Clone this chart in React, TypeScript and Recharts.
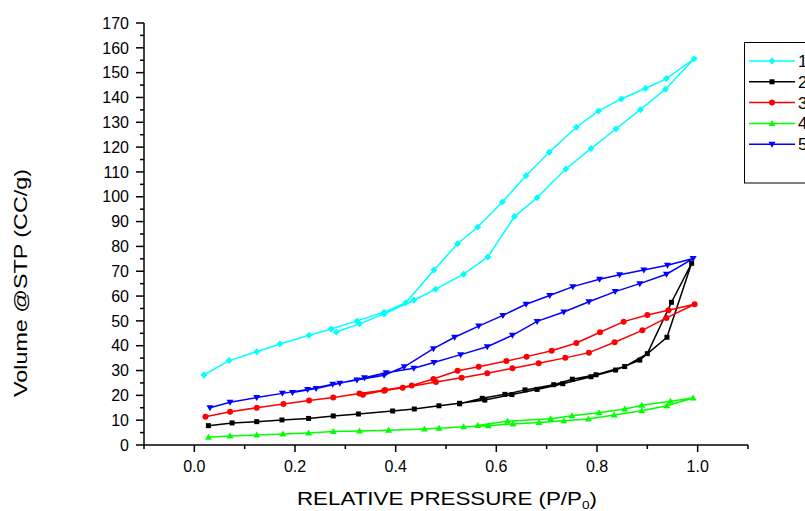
import React from 'react';
import { LineChart, Line, XAxis, YAxis } from 'recharts';

const SERIES_NAMES = ['1', '2', '3', '4', '5'];
const SERIES_COLORS = ['#00FFFF', '#000000', '#FF0000', '#00FF00', '#0000FF'];
const SERIES_SHAPES = ['diamond', 'square', 'circle', 'triangleUp', 'triangleDown'];

// sample 1 (adsorption up, then desorption back down)
const S1_P = [0.019, 0.069, 0.124, 0.170, 0.228, 0.272, 0.323, 0.377, 0.420, 0.476, 0.523, 0.563, 0.612, 0.659, 0.705, 0.759, 0.803, 0.848, 0.896, 0.938, 0.993,
  0.936, 0.886, 0.838, 0.788, 0.738, 0.681, 0.636, 0.583, 0.535, 0.479, 0.436, 0.377, 0.328, 0.282];
const S1_V = [28.2, 34.0, 37.6, 40.7, 44.2, 46.7, 50.0, 53.5, 57.3, 70.5, 81.1, 87.8, 97.9, 108.5, 117.9, 128.0, 134.6, 139.4, 143.6, 147.6, 155.6,
  143.3, 135.1, 127.4, 119.4, 111.2, 99.6, 92.0, 75.7, 68.8, 62.7, 58.3, 52.8, 48.8, 45.5];

const S2_P = [0.028, 0.075, 0.124, 0.174, 0.227, 0.276, 0.326, 0.394, 0.437, 0.486, 0.527, 0.577, 0.631, 0.681, 0.732, 0.788, 0.837, 0.885, 0.939, 0.988,
  0.948, 0.900, 0.855, 0.798, 0.751, 0.714, 0.657, 0.617, 0.572, 0.527];
const S2_V = [7.8, 8.9, 9.4, 10.1, 10.7, 11.7, 12.5, 13.7, 14.5, 15.8, 16.8, 18.1, 20.3, 22.4, 24.7, 27.5, 30.2, 34.2, 43.4, 73.2,
  57.5, 36.8, 31.6, 28.3, 26.5, 24.3, 22.2, 20.4, 18.8, 16.6];

const S3_P = [0.022, 0.071, 0.124, 0.177, 0.228, 0.276, 0.328, 0.379, 0.432, 0.475, 0.523, 0.565, 0.620, 0.660, 0.710, 0.759, 0.806, 0.853, 0.900, 0.942, 0.994,
  0.938, 0.890, 0.835, 0.784, 0.737, 0.684, 0.632, 0.582, 0.531, 0.480, 0.414, 0.377, 0.335];
const S3_V = [11.4, 13.4, 15.0, 16.5, 17.9, 19.1, 20.7, 22.2, 24.0, 26.6, 29.9, 31.5, 33.8, 35.6, 38.0, 41.1, 45.4, 49.7, 52.4, 54.3, 56.7,
  51.2, 46.2, 41.4, 37.2, 35.1, 32.9, 30.9, 28.9, 27.1, 25.4, 23.1, 21.9, 20.2];

const S4_P = [0.028, 0.071, 0.124, 0.176, 0.227, 0.276, 0.328, 0.386, 0.457, 0.486, 0.535, 0.584, 0.633, 0.685, 0.734, 0.783, 0.834, 0.889, 0.939, 0.991,
  0.946, 0.889, 0.855, 0.804, 0.750, 0.708, 0.622, 0.563];
const S4_V = [3.1, 3.6, 4.0, 4.4, 4.8, 5.4, 5.6, 5.9, 6.4, 6.7, 7.4, 7.8, 8.5, 9.1, 9.8, 10.5, 12.1, 13.8, 15.8, 18.9,
  17.6, 16.0, 14.5, 13.0, 11.8, 10.6, 9.6, 7.9];

const S5_P = [0.031, 0.071, 0.124, 0.175, 0.225, 0.275, 0.323, 0.377, 0.417, 0.475, 0.517, 0.565, 0.613, 0.659, 0.706, 0.752, 0.805, 0.845, 0.893, 0.940, 0.991,
  0.938, 0.885, 0.836, 0.784, 0.734, 0.681, 0.632, 0.582, 0.529, 0.476, 0.436, 0.381, 0.338, 0.289, 0.242, 0.195];
const S5_V = [15.0, 17.2, 19.1, 20.8, 22.4, 24.5, 26.2, 28.1, 31.5, 38.8, 43.4, 47.9, 52.2, 56.7, 60.2, 63.8, 66.8, 68.6, 70.5, 72.4, 75.1,
  68.8, 65.0, 61.8, 57.7, 53.6, 49.8, 44.2, 39.6, 36.4, 33.2, 30.9, 29.1, 27.1, 24.9, 22.8, 21.1];

const X_TICKS = [-0.1, 0, 0.1, 0.2, 0.3, 0.4, 0.5, 0.6, 0.7, 0.8, 0.9, 1.0, 1.1];
const X_LABELS = [0, 0.2, 0.4, 0.6, 0.8, 1.0];
const Y_TICKS = Array.from({ length: 35 }, (_, i) => i * 5);

const FONT = '"Liberation Sans", Arial, sans-serif';

const toRows = (p: number[], v: number[]) => p.map((x, i) => ({ p: x, v: v[i] }));
const SERIES_DATA = [toRows(S1_P, S1_V), toRows(S2_P, S2_V), toRows(S3_P, S3_V), toRows(S4_P, S4_V), toRows(S5_P, S5_V)];

const Marker = ({ shape, cx, cy, color }: { shape: string; cx: number; cy: number; color: string }) => {
  switch (shape) {
    case 'diamond':
      return <path d={`M${cx},${cy - 3.5}L${cx + 3.5},${cy}L${cx},${cy + 3.5}L${cx - 3.5},${cy}Z`} fill={color} />;
    case 'square':
      return <rect x={cx - 2.5} y={cy - 2.5} width={5} height={5} fill={color} />;
    case 'circle':
      return <circle cx={cx} cy={cy} r={3} fill={color} />;
    case 'triangleUp':
      return <path d={`M${cx},${cy - 3.5}L${cx + 3.5},${cy + 2.5}L${cx - 3.5},${cy + 2.5}Z`} fill={color} />;
    default:
      return <path d={`M${cx},${cy + 3.5}L${cx + 3.5},${cy - 2.5}L${cx - 3.5},${cy - 2.5}Z`} fill={color} />;
  }
};

const makeDot = (shape: string, color: string) => (props: any) => (
  <Marker key={`dot-${props.index}`} shape={shape} cx={props.cx} cy={props.cy} color={color} />
);

const XTick = (props: any) => {
  const { x, y, payload } = props;
  const major = X_LABELS.some((m) => Math.abs(m - payload.value) < 1e-6);
  return (
    <g>
      <line x1={x} x2={x} y1={y} y2={y + (major ? 7 : 4)} stroke="#000" strokeWidth={1.5} />
      {major && (
        <text x={x} y={y + 27} textAnchor="middle" fontSize={16} fontFamily={FONT} fill="#000">
          {payload.value.toFixed(1)}
        </text>
      )}
    </g>
  );
};

const YTick = (props: any) => {
  const { x, y, payload } = props;
  const major = payload.value % 10 === 0;
  return (
    <g>
      <line x1={x} x2={x - (major ? 8 : 4)} y1={y} y2={y} stroke="#000" strokeWidth={1.5} />
      {major && (
        <text x={x - 15} y={y + 5.7} textAnchor="end" fontSize={16} fontFamily={FONT} fill="#000">
          {payload.value}
        </text>
      )}
    </g>
  );
};

export default function App() {
  return (
    <div style={{ position: 'absolute', left: 0, top: 0, width: 805, height: 511, background: '#fff' }}>
      <LineChart width={805} height={511} margin={{ top: 23, right: 57, bottom: 0, left: 0 }}>
        <XAxis
          dataKey="p"
          type="number"
          domain={[-0.1, 1.1]}
          ticks={X_TICKS}
          interval={0}
          allowDataOverflow
          height={66}
          tickSize={0}
          tickMargin={0}
          tickLine={false}
          tick={<XTick />}
          axisLine={{ stroke: '#000', strokeWidth: 1.5 }}
        />
        <YAxis
          dataKey="v"
          type="number"
          domain={[0, 170]}
          ticks={Y_TICKS}
          interval={0}
          allowDataOverflow
          width={144}
          tickSize={0}
          tickMargin={0}
          tickLine={false}
          tick={<YTick />}
          axisLine={{ stroke: '#000', strokeWidth: 1.5 }}
        />
        {SERIES_DATA.map((rows, i) => (
          <Line
            key={SERIES_NAMES[i]}
            data={rows}
            dataKey="v"
            name={SERIES_NAMES[i]}
            type="linear"
            stroke={SERIES_COLORS[i]}
            strokeWidth={1.5}
            dot={makeDot(SERIES_SHAPES[i], SERIES_COLORS[i])}
            activeDot={false}
            isAnimationActive={false}
          />
        ))}
      </LineChart>
      <svg width={805} height={511} style={{ position: 'absolute', left: 0, top: 0, pointerEvents: 'none' }}>
        <text
          x={447}
          y={505}
          textAnchor="middle"
          fontSize={18}
          fontFamily={FONT}
          fill="#000"
          textLength={300}
          lengthAdjust="spacingAndGlyphs"
        >
          RELATIVE PRESSURE (P/P<tspan fontSize={11} dy={4}>0</tspan><tspan dy={-4}>)</tspan>
        </text>
        <text
          transform="translate(27,283) rotate(-90)"
          textAnchor="middle"
          fontSize={18}
          fontFamily={FONT}
          fill="#000"
          textLength={228}
          lengthAdjust="spacingAndGlyphs"
        >
          Volume @STP (CC/g)
        </text>
        <rect x={744.5} y={42.5} width={80} height={140.5} fill="#fff" stroke="#000" strokeWidth={1} />
        {SERIES_NAMES.map((name, i) => {
          const y = 61 + i * 20.8;
          return (
            <g key={name}>
              <line x1={749} x2={795} y1={y} y2={y} stroke={SERIES_COLORS[i]} strokeWidth={1.5} />
              <Marker shape={SERIES_SHAPES[i]} cx={772} cy={y} color={SERIES_COLORS[i]} />
              <text x={798} y={y + 6} fontSize={17} fontFamily={FONT} fill="#000">
                {name}
              </text>
            </g>
          );
        })}
      </svg>
    </div>
  );
}
